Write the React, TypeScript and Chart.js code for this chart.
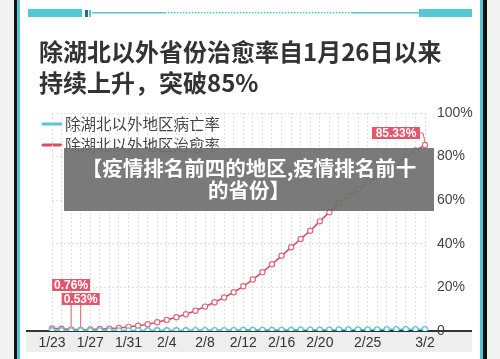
import React, { useEffect, useRef } from 'react';
import { Chart, registerables } from 'chart.js';

Chart.register(...registerables);

const dates = [
  '1/23', '1/24', '1/25', '1/26', '1/27', '1/28', '1/29', '1/30', '1/31',
  '2/1', '2/2', '2/3', '2/4', '2/5', '2/6', '2/7', '2/8', '2/9', '2/10',
  '2/11', '2/12', '2/13', '2/14', '2/15', '2/16', '2/17', '2/18', '2/19', '2/20',
  '2/21', '2/22', '2/23', '2/24', '2/25', '2/26', '2/27', '2/28', '2/29',
  '3/1', '3/2',
];
const tickDates = ['1/23', '1/27', '1/31', '2/4', '2/8', '2/12', '2/16', '2/20', '2/25', '3/2'];

const deathRate = [
  0.3, 0.3, 0.2, 0.2, 0.2, 0.2, 0.2, 0.2, 0.2,
  0.2, 0.3, 0.3, 0.3, 0.3, 0.3, 0.4, 0.4, 0.4, 0.4,
  0.4, 0.5, 0.5, 0.5, 0.5, 0.5, 0.5, 0.6, 0.6, 0.6,
  0.6, 0.7, 0.7, 0.7, 0.7, 0.7, 0.8, 0.8, 0.8,
  0.8, 0.8,
];
const cureRate = [
  1.2, 1.0, 0.76, 0.53, 0.7, 0.9, 1.1, 1.4, 1.9,
  2.4, 3.1, 4.0, 5.1, 6.3, 7.7, 9.3, 11.2, 13.2, 15.4,
  17.8, 20.5, 23.6, 27.0, 30.6, 34.5, 38.4, 42.2, 46.0, 50.3,
  54.5, 58.5, 61.8, 65.0, 68.0, 71.0, 74.0, 77.0, 80.0,
  82.8, 85.33,
];

const titleLines = ['除湖北以外省份治愈率自1月26日以来', '持续上升，突破85%'];
const seriesNames = ['除湖北以外地区病亡率', '除湖北以外地区治愈率'];
const overlayLines = ['【疫情排名前四的地区,疫情排名前十', '的省份】'];
const calloutDates = ['1/25', '1/26', '3/2'];
const calloutTexts = ['0.76%', '0.53%', '85.33%'];

const CYAN = '#55c8d4';
const RED = '#dc4d64';
const CJK = '"Noto Sans CJK SC", "Noto Sans", sans-serif';
const LAT = '"Liberation Sans", Arial, sans-serif';

const decorPlugin = {
  id: 'decor',
  beforeDraw(chart: any) {
    const ctx = chart.ctx as CanvasRenderingContext2D;
    ctx.save();
    ctx.fillStyle = '#f2f2f2';
    ctx.fillRect(0, 0, 14, 359);
    ctx.fillRect(487, 0, 13, 359);
    ctx.fillStyle = '#ffffff';
    ctx.fillRect(20, 0, 460, 359);
    ctx.fillStyle = '#111111';
    ctx.fillRect(14, 0, 3, 359);
    ctx.fillRect(483, 0, 4, 359);
    ctx.fillStyle = CYAN;
    ctx.fillRect(17, 0, 3, 359);
    ctx.fillRect(480, 0, 3, 359);
    // top decorative bar
    ctx.fillRect(28, 9, 54, 8);
    ctx.fillRect(419, 9, 53, 8);
    ctx.fillRect(92, 12, 73, 1.5);
    ctx.fillRect(352, 12, 67, 1.5);
    for (let x = 165; x < 352; x += 3) ctx.fillRect(x, 12, 1.5, 1.5);
    ctx.fillStyle = '#2f6d76';
    ctx.fillRect(85, 10, 3, 7);
    ctx.fillStyle = CYAN;
    ctx.fillRect(89, 10, 2, 7);

    // title
    ctx.fillStyle = '#333333';
    ctx.font = `bold 24px ${CJK}`;
    ctx.textBaseline = 'middle';
    ctx.textAlign = 'left';
    ctx.fillText(titleLines[0], 39, 52);
    ctx.fillText(titleLines[1], 39, 83);

    // legend
    const legendColors = [CYAN, RED];
    const legendY = [124, 145];
    for (let i = 0; i < 2; i++) {
      ctx.strokeStyle = legendColors[i];
      ctx.lineWidth = 3;
      ctx.lineCap = 'round';
      ctx.beginPath();
      ctx.moveTo(43, legendY[i]);
      ctx.lineTo(61, legendY[i]);
      ctx.stroke();
      ctx.fillStyle = '#444444';
      ctx.font = `15.5px ${CJK}`;
      ctx.fillText(seriesNames[i], 65, legendY[i]);
    }

    // x label band
    ctx.fillStyle = '#eeeeee';
    ctx.fillRect(26, 332, 446, 20);
    ctx.restore();
  },
  beforeDatasetsDraw(chart: any) {
    const ctx = chart.ctx as CanvasRenderingContext2D;
    const y = chart.scales.y.getPixelForValue(0);
    ctx.save();
    ctx.fillStyle = '#333333';
    ctx.fillRect(26, y - 1, 446, 2);
    ctx.restore();
  },
  afterDatasetsDraw(chart: any) {
    const ctx = chart.ctx as CanvasRenderingContext2D;
    const meta = chart.getDatasetMeta(1);
    const boxes = [
      { dx: -19, top: 279, w: 38 },
      { dx: -19, top: 293, w: 38 },
      { dx: -53, top: 127, w: 48 },
    ];
    ctx.save();
    ctx.font = `bold 12px ${LAT}`;
    ctx.textAlign = 'center';
    ctx.textBaseline = 'middle';
    for (let i = 0; i < calloutDates.length; i++) {
      const idx = dates.indexOf(calloutDates[i]);
      const pt = meta.data[idx];
      const b = boxes[i];
      const bx = pt.x + b.dx;
      const h = 12;
      ctx.strokeStyle = '#e45d71';
      ctx.lineWidth = 1;
      ctx.beginPath();
      if (i < 2) {
        ctx.moveTo(pt.x, b.top + h);
        ctx.lineTo(pt.x, pt.y - 3);
      } else {
        ctx.moveTo(bx + b.w, b.top + h / 2);
        ctx.lineTo(pt.x - 2, b.top + h / 2);
        ctx.lineTo(pt.x, pt.y - 3);
      }
      ctx.stroke();
      ctx.fillStyle = '#e4566c';
      ctx.fillRect(bx, b.top, b.w, h);
      ctx.fillStyle = '#ffffff';
      ctx.fillText(calloutTexts[i], bx + b.w / 2, b.top + h / 2 + 0.5);
    }
    ctx.restore();
  },
  afterDraw(chart: any) {
    const ctx = chart.ctx as CanvasRenderingContext2D;
    ctx.save();
    ctx.fillStyle = 'rgba(112,112,112,0.93)';
    ctx.fillRect(64, 148, 370, 63);
    ctx.fillStyle = '#ffffff';
    ctx.font = `bold 20.5px ${CJK}`;
    ctx.textAlign = 'center';
    ctx.textBaseline = 'middle';
    ctx.fillText(overlayLines[0], 249, 168);
    ctx.fillText(overlayLines[1], 249, 190);
    ctx.restore();
  },
};

export default function App() {
  const ref = useRef<HTMLCanvasElement | null>(null);

  useEffect(() => {
    if (!ref.current) return;
    const chart = new Chart(ref.current, {
      type: 'line',
      data: {
        labels: dates,
        datasets: [
          {
            label: seriesNames[0],
            data: deathRate,
            borderColor: CYAN,
            backgroundColor: '#ffffff',
            pointBackgroundColor: '#ffffff',
            pointBorderColor: CYAN,
            pointRadius: 2.6,
            pointBorderWidth: 1.3,
            borderWidth: 1.6,
            tension: 0,
          },
          {
            label: seriesNames[1],
            data: cureRate,
            borderColor: RED,
            backgroundColor: '#ffffff',
            pointBackgroundColor: '#ffffff',
            pointBorderColor: '#e06a7c',
            pointRadius: 2.6,
            pointBorderWidth: 1.2,
            borderWidth: 1.6,
            tension: 0,
          },
        ],
      },
      options: {
        animation: false,
        responsive: false,
        layout: { padding: { left: 52, right: 25, top: 113, bottom: 7 } },
        plugins: {
          legend: { display: false },
          title: { display: false },
          tooltip: { enabled: false },
        },
        scales: {
          x: {
            type: 'category',
            grid: { color: '#e2e2e2', drawTicks: false, lineWidth: 1 },
            border: { display: false, dash: [2, 2] },
            afterFit: (s: any) => { s.height = 21; },
            ticks: {
              autoSkip: false,
              maxRotation: 0,
              minRotation: 0,
              padding: 4,
              color: '#333333',
              font: { size: 14, family: LAT },
              callback: (_v: any, idx: number) => (tickDates.includes(dates[idx]) ? dates[idx] : ''),
            },
          },
          y: {
            position: 'right',
            min: 0,
            max: 100,
            grid: { color: '#e2e2e2', drawTicks: false, lineWidth: 1 },
            border: { display: false, dash: [2, 2] },
            afterFit: (s: any) => { s.width = 50; },
            ticks: {
              stepSize: 20,
              padding: 12,
              color: '#444444',
              font: { size: 14, family: LAT },
              callback: (v: any) => (v === 0 ? '0' : `${v}%`),
            },
          },
        },
      },
      plugins: [decorPlugin],
    });
    return () => chart.destroy();
  }, []);

  return (
    <div style={{ position: 'fixed', left: 0, top: 0, width: 500, height: 359 }}>
      <canvas ref={ref} width={500} height={359} style={{ display: 'block' }} />
    </div>
  );
}
